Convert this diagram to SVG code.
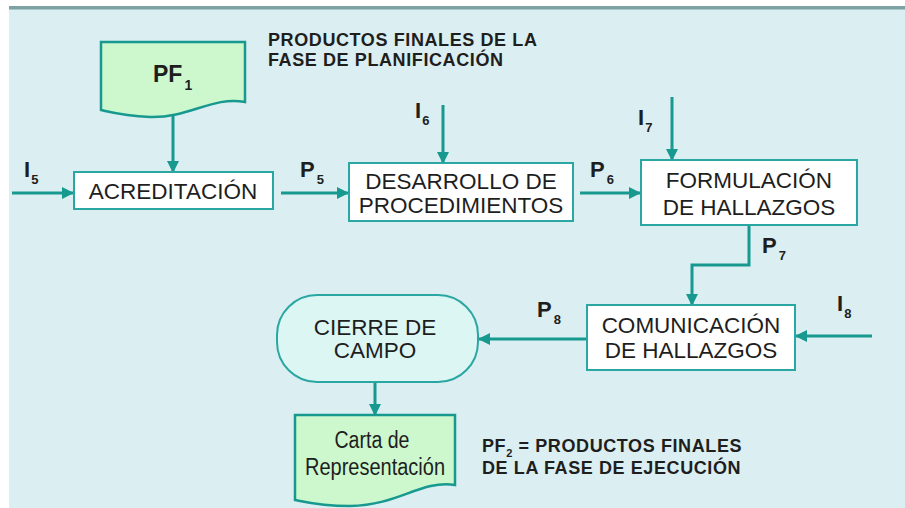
<svg xmlns="http://www.w3.org/2000/svg" width="905" height="508" viewBox="0 0 905 508">
<defs>
<marker id="ah" markerUnits="userSpaceOnUse" markerWidth="12" markerHeight="12" refX="11" refY="6" orient="auto">
<path d="M0,0 L12,6 L0,12 Z" fill="#17998f"/>
</marker>
<style>
.box{fill:#ffffff;stroke:#2aa7a2;stroke-width:2}
.doc{fill:#cdf8cd;stroke:#17998f;stroke-width:2.5}
.term{fill:#dcf6f4;stroke:#2aa7a2;stroke-width:2}
.con{fill:none;stroke:#17998f;stroke-width:3;marker-end:url(#ah)}
.t{font-family:"Liberation Sans",Arial,sans-serif;font-size:22.5px;fill:#1e1e1e;text-anchor:middle}
.b{font-family:"Liberation Sans",Arial,sans-serif;font-weight:bold;fill:#1e1e1e}
.lbl{font-size:22px}
.sub{font-size:13px}
.note{font-size:18px;letter-spacing:0.6px}
</style>
</defs>
<rect x="9" y="8" width="896" height="500" fill="#dbeef1"/>
<rect x="9" y="6" width="896" height="3" fill="#7ea2a4"/>
<rect x="9" y="9" width="896" height="1" fill="#a9c6c8"/>

<g id="connectors">
<path class="con" d="M173,113 V172"/>
<path class="con" d="M12,193 H73"/>
<path class="con" d="M281,193 H348"/>
<path class="con" d="M443,105 V163"/>
<path class="con" d="M580,193 H640"/>
<path class="con" d="M672,97 V160"/>
<path class="con" d="M749,225 V265 H692 V305"/>
<path class="con" d="M872,336 H796"/>
<path class="con" d="M587,339 H479"/>
<path class="con" d="M375,382 V415"/>
</g>

<g id="labels">
<text class="b lbl" x="24" y="177">I<tspan class="sub" dx="1" dy="7">5</tspan></text>
<text class="b lbl" x="300" y="177">P<tspan class="sub" dx="2" dy="7">5</tspan></text>
<text class="b lbl" x="415" y="118">I<tspan class="sub" dx="1" dy="7">6</tspan></text>
<text class="b lbl" x="590" y="177">P<tspan class="sub" dx="2" dy="7">6</tspan></text>
<text class="b lbl" x="638" y="125">I<tspan class="sub" dx="1" dy="7">7</tspan></text>
<text class="b lbl" x="762" y="253">P<tspan class="sub" dx="2" dy="7">7</tspan></text>
<text class="b lbl" x="537" y="317">P<tspan class="sub" dx="2" dy="7">8</tspan></text>
<text class="b lbl" x="837" y="311">I<tspan class="sub" dx="1" dy="7">8</tspan></text>
</g>

<g id="note1">
<text class="b note" x="268" y="46">PRODUCTOS FINALES DE LA</text>
<text class="b note" x="268" y="66">FASE DE PLANIFICACIÓN</text>
</g>

<g id="note2">
<text class="b note" x="482" y="452">PF<tspan font-size="11px" dy="5">2</tspan><tspan dy="-5"> = PRODUCTOS FINALES</tspan></text>
<text class="b note" x="482" y="474">DE LA FASE DE EJECUCIÓN</text>
</g>

<g id="pf1">
<path class="doc" d="M101,42 H245 V102 C212,96 190,118 150,117 C125,116 110,112 101,110 Z"/>
<text class="b" x="153" y="82" font-size="23px">PF<tspan font-size="14px" dx="2" dy="8">1</tspan></text>
</g>

<g id="acreditacion">
<rect class="box" x="74" y="172" width="199" height="37"/>
<text class="t" x="173" y="199">ACREDITACIÓN</text>
</g>

<g id="desarrollo">
<rect class="box" x="349" y="163" width="224" height="58"/>
<text class="t" x="461" y="189">DESARROLLO DE</text>
<text class="t" x="461" y="213">PROCEDIMIENTOS</text>
</g>

<g id="formulacion">
<rect class="box" x="641" y="160" width="216" height="65"/>
<text class="t" x="749" y="188">FORMULACIÓN</text>
<text class="t" x="749" y="215">DE HALLAZGOS</text>
</g>

<g id="comunicacion">
<rect class="box" x="587" y="305" width="208" height="65"/>
<text class="t" x="691" y="333">COMUNICACIÓN</text>
<text class="t" x="691" y="358">DE HALLAZGOS</text>
</g>

<g id="cierre">
<rect class="term" x="277" y="295" width="201" height="87" rx="40" ry="40"/>
<text class="t" x="375" y="335">CIERRE DE</text>
<text class="t" x="375" y="358">CAMPO</text>
</g>

<g id="carta">
<path class="doc" d="M295,415 H455 V485 C420,480 400,505 350,506 C320,506 305,502 295,500 Z"/>
<text class="t" x="372" y="448" style="font-size:23.5px" textLength="75" lengthAdjust="spacingAndGlyphs">Carta de</text>
<text class="t" x="375" y="475" style="font-size:23.5px" textLength="140" lengthAdjust="spacingAndGlyphs">Representación</text>
</g>
</svg>
